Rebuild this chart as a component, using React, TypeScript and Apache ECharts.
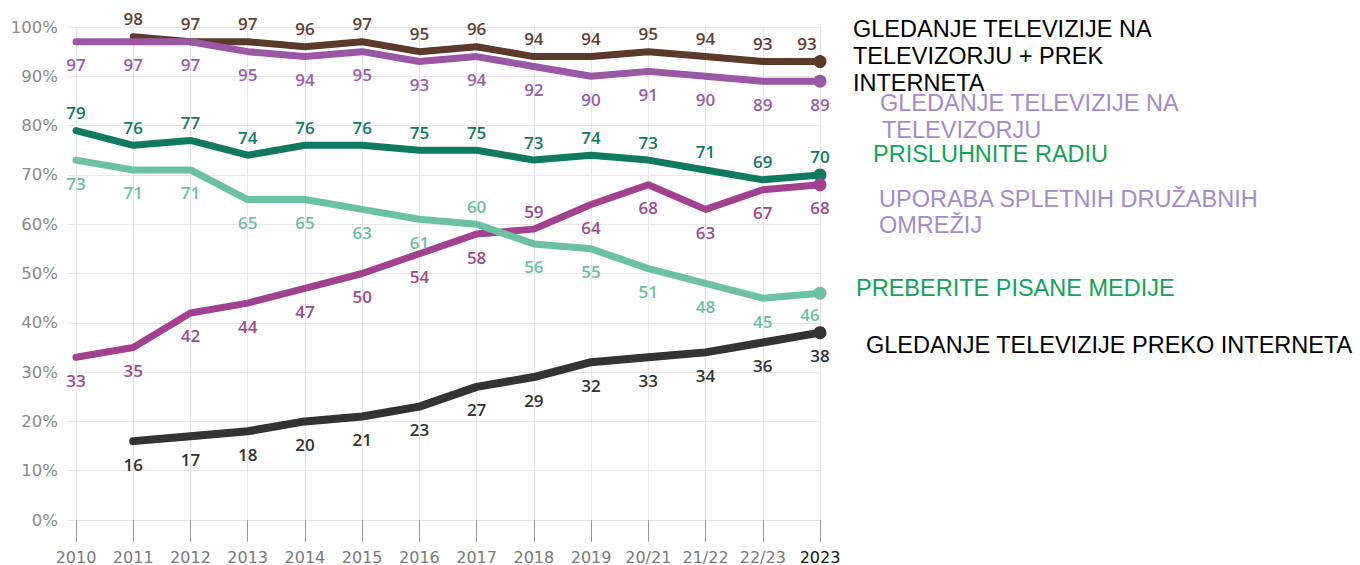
import React, { useEffect, useRef } from "react";
import * as echarts from "echarts";

const categories = ["2010", "2011", "2012", "2013", "2014", "2015", "2016", "2017", "2018", "2019", "20/21", "21/22", "22/23", "2023"];
const tvPlusInternet = [null, 98, 97, 97, 96, 97, 95, 96, 94, 94, 95, 94, 93, 93];
const tvOnTv = [97, 97, 97, 95, 94, 95, 93, 94, 92, 90, 91, 90, 89, 89];
const radio = [79, 76, 77, 74, 76, 76, 75, 75, 73, 74, 73, 71, 69, 70];
const printMedia = [73, 71, 71, 65, 65, 63, 61, 60, 56, 55, 51, 48, 45, 46];
const socialMedia = [33, 35, 42, 44, 47, 50, 54, 58, 59, 64, 68, 63, 67, 68];
const internetTv = [null, 16, 17, 18, 20, 21, 23, 27, 29, 32, 33, 34, 36, 38];

const yTicks = [0, 10, 20, 30, 40, 50, 60, 70, 80, 90, 100];

const legendTvPlusInternet = ["GLEDANJE TELEVIZIJE NA", "TELEVIZORJU + PREK", "INTERNETA"];
const legendTvOnTv = ["GLEDANJE TELEVIZIJE NA", "TELEVIZORJU"];
const legendRadio = ["PRISLUHNITE RADIU"];
const legendSocial = ["UPORABA SPLETNIH DRUŽABNIH", "OMREŽIJ"];
const legendPrint = ["PREBERITE PISANE MEDIJE"];
const legendInternetTv = ["GLEDANJE TELEVIZIJE PREKO INTERNETA"];

const ABOVE = -18;
const BELOW = 23;

function makeSeries(
  name: string,
  values: (number | null)[],
  color: string,
  labelColor: string,
  side: number,
  overrides: Record<number, [number, number]>,
  width: number
) {
  const last = values.length - 1;
  return {
    name,
    type: "line",
    showSymbol: true,
    showAllSymbol: true,
    symbol: "circle",
    symbolSize: (_v: any, p: any) => (p.dataIndex === last ? 13 : 1),
    itemStyle: { color },
    lineStyle: { color, width, join: "round", cap: "round" },
    label: {
      show: true,
      position: "inside",
      color: labelColor,
      fontFamily: "Open Sans",
      fontWeight: 600,
      fontSize: 17,
    },
    data: values.map((v, i) =>
      v == null
        ? "-"
        : {
            value: v,
            label: { offset: overrides[i] ?? [0, side] },
          }
    ),
  };
}

export default function App() {
  const ref = useRef<HTMLDivElement>(null);
  useEffect(() => {
    if (!ref.current) return;
    const chart = echarts.init(ref.current, undefined, { renderer: "svg" });

    const legendFont = "Liberation Sans";
    const legendSize = 23.5;
    const texts: any[] = [];
    const addBlock = (lines: string[], x: number, y0: number, step: number, fill: string, xs?: number[]) => {
      lines.forEach((t, i) => {
        texts.push({
          type: "text",
          x: xs ? xs[i] : x,
          y: y0 + i * step,
          style: {
            text: t,
            fill,
            fontFamily: legendFont,
            fontSize: legendSize,
            align: "left",
            verticalAlign: "middle",
          },
        });
      });
    };
    addBlock(legendTvPlusInternet, 853, 28.5, 27, "#000000");
    addBlock(legendTvOnTv, 880, 103, 26.5, "#a48cc8", [880, 882]);
    addBlock(legendRadio, 873, 154.3, 26, "#12a25a");
    addBlock(legendSocial, 879, 199.3, 26, "#a48cc8");
    addBlock(legendPrint, 856, 287.7, 26, "#12a25a");
    addBlock(legendInternetTv, 866, 345.3, 26, "#000000");

    chart.setOption({
      animation: false,
      backgroundColor: "#ffffff",
      grid: { left: 76, right: 540, top: 27, bottom: 45, containLabel: false },
      xAxis: {
        type: "category",
        data: categories,
        boundaryGap: false,
        axisLine: { show: true, lineStyle: { color: "#e2e2e2", width: 1 } },
        axisTick: { show: true, alignWithLabel: true, length: 22, lineStyle: { color: "#9a9a9a", width: 1 } },
        splitLine: { show: true, lineStyle: { color: "#e6e6e6", width: 1 } },
        axisLabel: {
          margin: 29,
          fontFamily: "DejaVu Sans",
          fontSize: 16,
          color: (_v: any, i: number) => (i === categories.length - 1 ? "#111111" : "#7a7a7a"),
          interval: 0,
        },
      },
      yAxis: {
        type: "value",
        min: yTicks[0],
        max: yTicks[yTicks.length - 1],
        interval: 10,
        axisLine: { show: false },
        axisTick: { show: true, length: 8, lineStyle: { color: "#e6e6e6" } },
        splitLine: { show: true, lineStyle: { color: "#e6e6e6", width: 1 } },
        axisLabel: {
          margin: 18,
          fontFamily: "DejaVu Sans",
          fontSize: 16.5,
          color: "#8a8a8a",
          formatter: "{value}%",
        },
      },
      series: [
        makeSeries("tvPlusInternet", tvPlusInternet, "#5b3a2b", "#5e4034", ABOVE, { 13: [-13, ABOVE] }, 7),
        makeSeries("tvOnTv", tvOnTv, "#9b57a6", "#9a5ea8", BELOW, {}, 7),
        makeSeries("radio", radio, "#0f7a5f", "#137a61", ABOVE, {}, 7),
        makeSeries("socialMedia", socialMedia, "#a2418f", "#9e4a8e", BELOW, { 8: [0, ABOVE] }, 7),
        makeSeries("printMedia", printMedia, "#6cc0a3", "#6cbfa3", BELOW, { 7: [0, ABOVE], 13: [-10, BELOW - 2] }, 7),
        makeSeries("internetTv", internetTv, "#333333", "#333333", BELOW, {}, 8),
      ],
      graphic: texts,
    });
    return () => chart.dispose();
  }, []);
  return <div ref={ref} style={{ position: "fixed", left: 0, top: 0, width: 1360, height: 565 }} />;
}
